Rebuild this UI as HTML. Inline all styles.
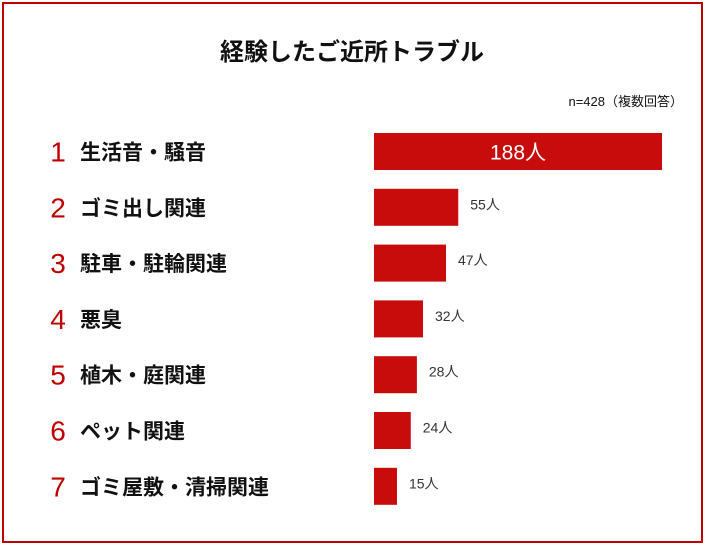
<!DOCTYPE html>
<html><head><meta charset="utf-8"><style>
body{margin:0;width:705px;height:545px;background:#fff;overflow:hidden;font-family:"Liberation Sans","Noto Sans CJK JP",sans-serif;}
#frame{position:absolute;left:2px;top:2px;width:697px;height:537px;border:2px solid #c00000;}
</style></head><body>
<div id="frame"></div>
<svg width="705" height="545" style="position:absolute;left:0;top:0">
<text x="352" y="60" text-anchor="middle" font-size="24" font-weight="bold" fill="#111">経験したご近所トラブル</text>
<text x="683" y="106" text-anchor="end" font-size="13" fill="#111">n=428（複数回答）</text>
<g id="bars"></g>
</svg>
<script>
const categories=["生活音・騒音","ゴミ出し関連","駐車・駐輪関連","悪臭","植木・庭関連","ペット関連","ゴミ屋敷・清掃関連"];
const values=[188,55,47,32,28,24,15];
const ranks=["1","2","3","4","5","6","7"];
const x0=374,scale=288/188,top0=133,step=55.8,bh=37;
const ns="http://www.w3.org/2000/svg",g=document.getElementById("bars");
function xs(v){return v*scale;}
function ys(i){return top0+i*step;}
function t(x,y,s,size,fill,anchor,w){const e=document.createElementNS(ns,"text");e.setAttribute("x",x);e.setAttribute("y",y);e.setAttribute("font-size",size);e.setAttribute("fill",fill);if(anchor)e.setAttribute("text-anchor",anchor);if(w)e.setAttribute("font-weight",w);e.textContent=s;g.appendChild(e);return e;}
values.forEach((v,i)=>{
 const y=ys(i),cy=y+bh/2;
 const r=document.createElementNS(ns,"rect");
 r.setAttribute("x",x0);r.setAttribute("y",y);r.setAttribute("width",xs(v));r.setAttribute("height",bh);r.setAttribute("fill","#c80c0c");
 
 
 g.appendChild(r);
 const rk=t(58,cy+10,ranks[i],28,"#c00000","middle");
 
 
 const lb=t(80,cy+8,categories[i],21,"#111",null,"bold");
 
 
 let vl;
 if(i===0){vl=t(x0+xs(v)/2,cy+8,v+"人",21,"#fff","middle");}
 else{vl=t(x0+xs(v)+12,cy+2,v+"人",14,"#333");}
 
 
});
</script>
</body></html>
